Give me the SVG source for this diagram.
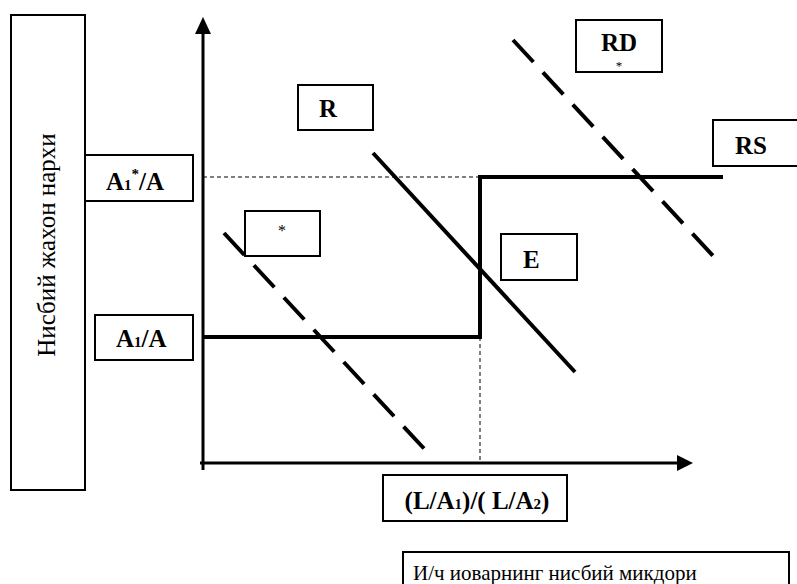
<svg xmlns="http://www.w3.org/2000/svg" width="797" height="584" viewBox="0 0 797 584">
<style>
.box{fill:#fff;stroke:#000;stroke-width:2}
.lbl{font-family:"Liberation Serif","Times New Roman","DejaVu Serif",serif;font-weight:bold;font-size:25px;fill:#000}
.txt{font-family:"Liberation Serif","Times New Roman","DejaVu Serif",serif;font-size:21px;fill:#000}
.thin{stroke:#000;stroke-width:1;stroke-dasharray:4,3;fill:none}
.thick{stroke:#000;stroke-width:4;fill:none}
.dash{stroke:#000;stroke-width:4;fill:none;stroke-dasharray:30,14}
</style>
<rect width="797" height="584" fill="#fff"/>
<g id="yaxis-label">
<rect class="box" x="11" y="15" width="74" height="475"/>
<text class="txt" transform="translate(55,245) rotate(-90)" text-anchor="middle" style="font-size:25px">Нисбий жахон нархи</text>
</g>
<g id="connectors">
<line x1="203" y1="470" x2="203" y2="33" stroke="#000" stroke-width="3"/>
<path d="M203,17 L195,34 L211,34 Z" fill="#000"/>
<line x1="200" y1="463" x2="677" y2="463" stroke="#000" stroke-width="3"/>
<path d="M693,463 L677,455 L677,471 Z" fill="#000"/>
<line class="thin" x1="203" y1="177" x2="480" y2="177"/>
<line class="thin" x1="480" y1="337" x2="480" y2="463"/>
<polyline class="thick" points="203,337 480,337 480,177 723,177"/>
<line class="thick" x1="373" y1="153" x2="575" y2="372"/>
<line class="dash" x1="224" y1="233" x2="430" y2="455"/>
<line class="dash" x1="513" y1="40" x2="715" y2="258"/>
</g>
<g id="A1star">
<rect class="box" x="85" y="155" width="108" height="46"/>
<text class="lbl" x="106" y="190">A<tspan font-size="15">1</tspan><tspan font-size="15" dy="-11">*</tspan><tspan dy="11">/A</tspan></text>
</g>
<g id="A1">
<rect class="box" x="95" y="315" width="98" height="45"/>
<text class="lbl" x="116" y="347">A<tspan font-size="15">1</tspan>/A</text>
</g>
<g id="R">
<rect class="box" x="298" y="85" width="75" height="45"/>
<text class="lbl" x="319" y="117">R</text>
</g>
<g id="RD">
<rect class="box" x="576" y="20" width="86" height="52"/>
<text class="lbl" x="619" y="51" text-anchor="middle">RD</text>
<text class="txt" x="619" y="70" text-anchor="middle" style="font-size:13px">*</text>
</g>
<g id="star">
<rect class="box" x="245" y="211" width="75" height="45"/>
<text class="txt" x="282" y="236" text-anchor="middle" style="font-size:16px">*</text>
</g>
<g id="E">
<rect class="box" x="501" y="234" width="76" height="46"/>
<text class="lbl" x="523" y="268">E</text>
</g>
<g id="RS">
<rect class="box" x="713" y="120" width="90" height="46"/>
<text class="lbl" x="735" y="154">RS</text>
</g>
<g id="xlabel">
<rect class="box" x="383" y="475" width="184" height="46"/>
<text class="lbl" x="477" y="509" text-anchor="middle">(L/A<tspan font-size="15">1</tspan>)/( L/A<tspan font-size="15">2</tspan>)</text>
</g>
<g id="xaxis-label">
<rect class="box" x="403" y="552" width="386" height="50"/>
<text class="txt" x="413" y="580">И/ч иоварнинг нисбий микдори</text>
</g>
</svg>
